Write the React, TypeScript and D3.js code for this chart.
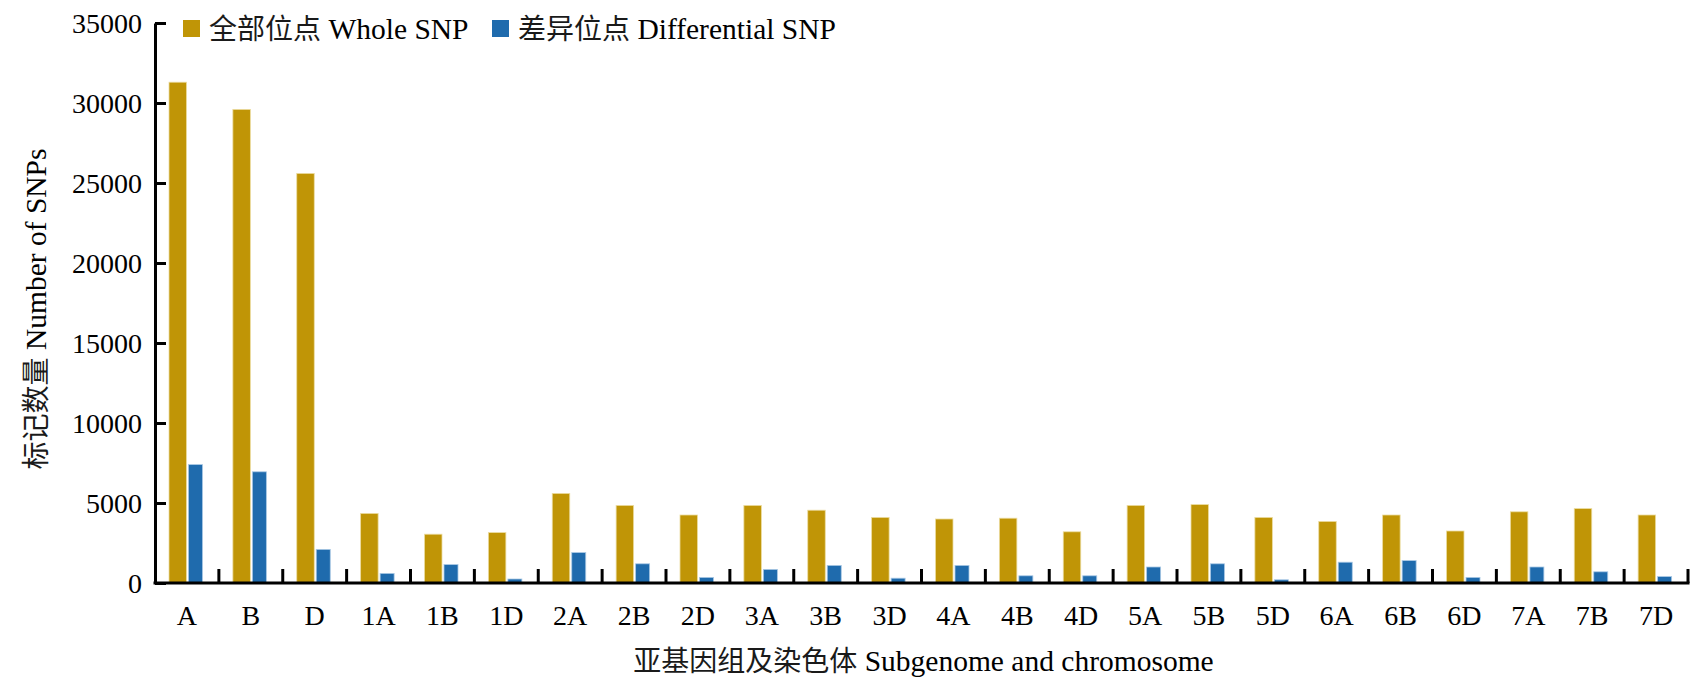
import { useEffect, useRef } from 'react';
import * as d3 from 'd3';

// chromosome groups along the x axis
const categories = [
  'A', 'B', 'D', '1A', '1B', '1D', '2A', '2B', '2D', '3A', '3B', '3D',
  '4A', '4B', '4D', '5A', '5B', '5D', '6A', '6B', '6D', '7A', '7B', '7D',
];

// 全部位点 Whole SNP
const wholeSnp = [
  31300, 29600, 25600, 4350, 3050, 3150, 5600, 4850, 4250, 4850, 4550, 4100,
  4000, 4050, 3200, 4850, 4900, 4100, 3850, 4250, 3250, 4450, 4650, 4250,
];

// 差异位点 Differential SNP
const diffSnp = [
  7400, 6950, 2100, 600, 1150, 250, 1900, 1200, 350, 850, 1100, 300,
  1100, 450, 450, 1000, 1200, 200, 1300, 1400, 350, 1000, 700, 400,
];

const yTicks = [0, 5000, 10000, 15000, 20000, 25000, 30000, 35000];

const legendItems = [
  { cn: '全部位点', en: ' Whole SNP', color: '#c09506' },
  { cn: '差异位点', en: ' Differential SNP', color: '#1f6bad' },
];

const FONT = "'Liberation Serif', 'Times New Roman', 'Noto Sans CJK SC', serif";

if (typeof document !== 'undefined') document.body.style.margin = '0';

// mixed Chinese / English label: CJK part a bit lighter, Latin part slightly larger
function mixedText(
  t: d3.Selection<SVGTextElement, unknown, null, undefined>,
  cn: string,
  en: string
) {
  t.attr('font-family', FONT).attr('fill', '#000');
  t.append('tspan').attr('font-size', 28).attr('fill', '#1a1a1a').text(cn);
  t.append('tspan').attr('font-size', 29.5).text(en);
}

export default function App() {
  const svgRef = useRef<SVGSVGElement>(null);

  useEffect(() => {
    if (!svgRef.current) return;
    const width = 1703;
    const height = 687;
    const margin = { top: 23, right: 15, bottom: 104, left: 155 };

    d3.select(svgRef.current).selectAll('*').remove();
    const svg = d3.select(svgRef.current).attr('width', width).attr('height', height);

    const x = d3
      .scaleBand<string>()
      .domain(categories)
      .range([margin.left, width - margin.right])
      .padding(0);

    const y = d3
      .scaleLinear()
      .domain([0, 35000])
      .range([height - margin.bottom, margin.top]);

    const bw = x.bandwidth();
    const base = y(0);

    // bars
    const bars = svg.append('g');
    categories.forEach((c, i) => {
      const x0 = x(c)!;
      bars
        .append('rect')
        .attr('x', x0 + 14)
        .attr('y', y(wholeSnp[i]))
        .attr('width', 17.5)
        .attr('height', base - y(wholeSnp[i]))
        .attr('fill', legendItems[0].color)
        .attr('stroke', '#ecdca0')
        .attr('stroke-width', 0.8);
      bars
        .append('rect')
        .attr('x', x0 + 33.5)
        .attr('y', y(diffSnp[i]))
        .attr('width', 14)
        .attr('height', base - y(diffSnp[i]))
        .attr('fill', legendItems[1].color)
        .attr('stroke', '#a9c8e4')
        .attr('stroke-width', 0.8);
    });

    // y axis, ticks inward
    const yAxis = svg
      .append('g')
      .attr('transform', `translate(${margin.left},0)`)
      .call(
        d3
          .axisLeft(y)
          .tickValues(yTicks)
          .tickSizeInner(-11)
          .tickSizeOuter(0)
          .tickPadding(13)
          .tickFormat((d) => String(d))
      );
    yAxis.select('.domain').attr('stroke', '#000').attr('stroke-width', 3);
    yAxis.selectAll('.tick line').attr('stroke', '#000').attr('stroke-width', 3);
    yAxis
      .selectAll('.tick text')
      .attr('fill', '#000')
      .attr('font-family', FONT)
      .attr('font-size', 28)
      .attr('dy', '0.34em');

    // x axis line
    svg
      .append('line')
      .attr('x1', margin.left - 1.5)
      .attr('x2', width - margin.right + 1.5)
      .attr('y1', base)
      .attr('y2', base)
      .attr('stroke', '#000')
      .attr('stroke-width', 3);

    // boundary ticks pointing up
    svg
      .append('g')
      .selectAll('line')
      .data(categories)
      .join('line')
      .attr('x1', (d) => x(d)! + bw)
      .attr('x2', (d) => x(d)! + bw)
      .attr('y1', base)
      .attr('y2', base - 14)
      .attr('stroke', '#000')
      .attr('stroke-width', 3);

    // category labels
    svg
      .append('g')
      .selectAll('text')
      .data(categories)
      .join('text')
      .attr('x', (d) => x(d)! + bw / 2)
      .attr('y', 625)
      .attr('text-anchor', 'middle')
      .attr('font-family', FONT)
      .attr('font-size', 28)
      .attr('fill', '#000')
      .text((d) => d);

    // axis titles
    const xTitle = svg
      .append('text')
      .attr('x', (margin.left + width - margin.right) / 2 + 2)
      .attr('y', 671)
      .attr('text-anchor', 'middle');
    mixedText(xTitle, '亚基因组及染色体', ' Subgenome and chromosome');

    const yTitle = svg
      .append('text')
      .attr('transform', `translate(46, ${(margin.top + base) / 2 + 6}) rotate(-90)`)
      .attr('text-anchor', 'middle');
    mixedText(yTitle, '标记数量', ' Number of SNPs');

    // legend
    const legendX = [183, 492];
    legendItems.forEach((item, i) => {
      const g = svg.append('g').attr('transform', `translate(${legendX[i]}, 20)`);
      g.append('rect').attr('width', 17).attr('height', 17).attr('fill', item.color);
      const t = g.append('text').attr('x', 26).attr('y', 19);
      mixedText(t, item.cn, item.en);
    });
  }, []);

  return <svg ref={svgRef} style={{ display: 'block' }} />;
}
